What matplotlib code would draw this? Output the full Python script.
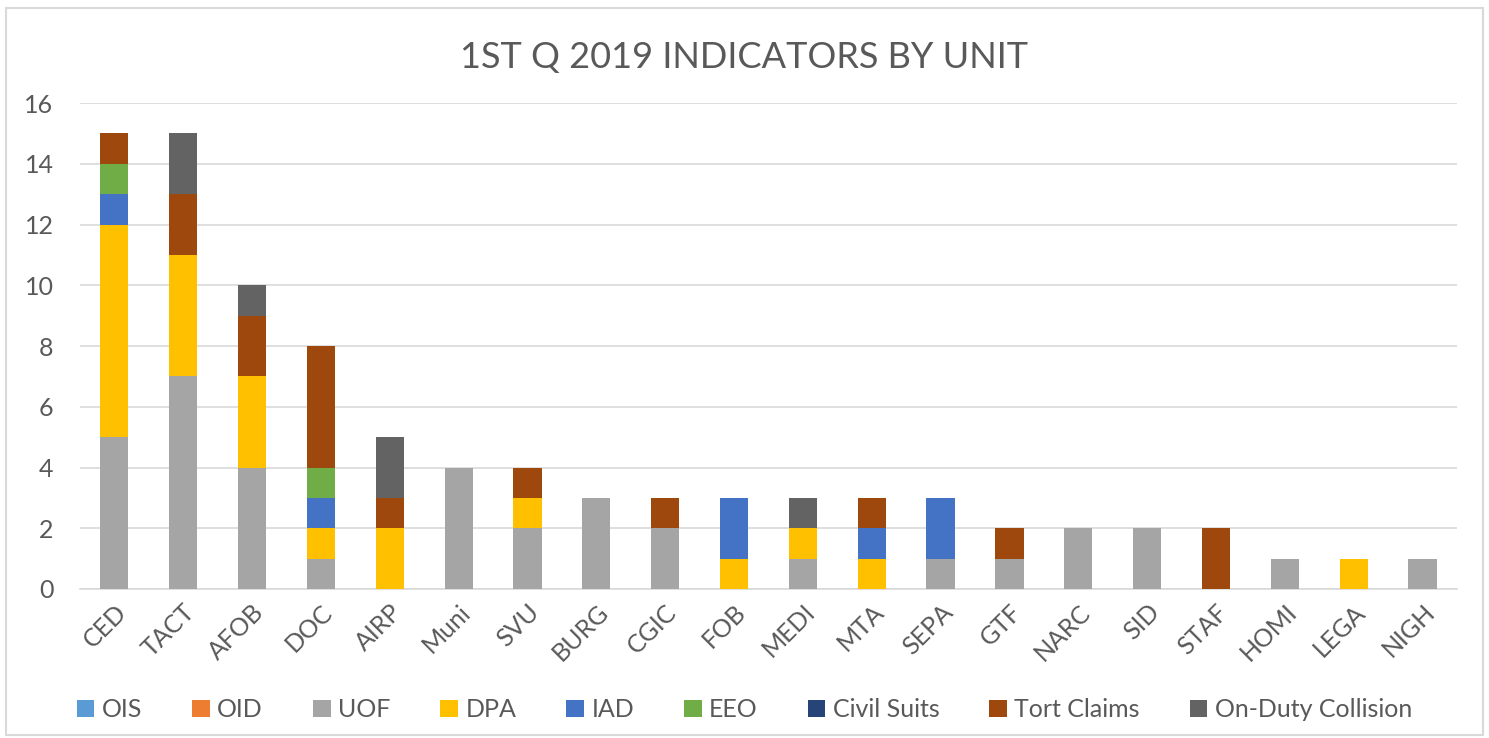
import numpy as np
import matplotlib.pyplot as plt
from matplotlib.patches import Rectangle

plt.rcParams['font.family'] = ['Lato', 'DejaVu Sans']

units = ['CED', 'TACT', 'AFOB', 'DOC', 'AIRP', 'Muni', 'SVU', 'BURG', 'CGIC', 'FOB',
         'MEDI', 'MTA', 'SEPA', 'GTF', 'NARC', 'SID', 'STAF', 'HOMI', 'LEGA', 'NIGH']

ois =       [0, 0, 0, 0, 0, 0, 0, 0, 0, 0, 0, 0, 0, 0, 0, 0, 0, 0, 0, 0]
oid =       [0, 0, 0, 0, 0, 0, 0, 0, 0, 0, 0, 0, 0, 0, 0, 0, 0, 0, 0, 0]
uof =       [5, 7, 4, 1, 0, 4, 2, 3, 2, 0, 1, 0, 1, 1, 2, 2, 0, 1, 0, 1]
dpa =       [7, 4, 3, 1, 2, 0, 1, 0, 0, 1, 1, 1, 0, 0, 0, 0, 0, 0, 1, 0]
iad =       [1, 0, 0, 1, 0, 0, 0, 0, 0, 2, 0, 1, 2, 0, 0, 0, 0, 0, 0, 0]
eeo =       [1, 0, 0, 1, 0, 0, 0, 0, 0, 0, 0, 0, 0, 0, 0, 0, 0, 0, 0, 0]
civil =     [0, 0, 0, 0, 0, 0, 0, 0, 0, 0, 0, 0, 0, 0, 0, 0, 0, 0, 0, 0]
tort =      [1, 2, 2, 4, 1, 0, 1, 0, 1, 0, 0, 1, 0, 1, 0, 0, 2, 0, 0, 0]
collision = [0, 2, 1, 0, 2, 0, 0, 0, 0, 0, 1, 0, 0, 0, 0, 0, 0, 0, 0, 0]

series = [
    ('OIS', ois, '#5B9BD5'),
    ('OID', oid, '#ED7D31'),
    ('UOF', uof, '#A5A5A5'),
    ('DPA', dpa, '#FFC000'),
    ('IAD', iad, '#4472C4'),
    ('EEO', eeo, '#70AD47'),
    ('Civil Suits', civil, '#264478'),
    ('Tort Claims', tort, '#9E480E'),
    ('On-Duty Collision', collision, '#636363'),
]

txt = '#595959'
grid = '#D9D9D9'

fig = plt.figure(figsize=(14.89, 7.38), dpi=100)
fig.patches.append(Rectangle((0.004, 0.004), 0.992, 0.985, transform=fig.transFigure,
                             fill=False, edgecolor='#D9D9D9', linewidth=1.5))
ax = fig.add_axes([0.0537, 0.2019, 0.9248, 0.6585])

x = np.arange(len(units))
bottom = np.zeros(len(units))
for name, vals, col in series:
    vals = np.array(vals, dtype=float)
    ax.bar(x, vals, width=0.41, bottom=bottom, color=col, label=name, zorder=3)
    bottom += vals

ax.set_xlim(-0.5, len(units) - 0.5)
ax.set_ylim(0, 16)
ax.set_yticks(range(0, 17, 2))
ax.yaxis.grid(True, color=grid, linewidth=1.2, zorder=0)
for s in ['top', 'right', 'left']:
    ax.spines[s].set_visible(False)
ax.spines['bottom'].set_color(grid)
ax.spines['bottom'].set_linewidth(1.2)
ax.tick_params(axis='both', length=0, labelsize=18, colors=txt, pad=8)
ax.set_xticks(x)
ax.set_xticklabels(units, rotation=45, ha='right', rotation_mode='anchor')
ax.tick_params(axis='y', pad=19)

fig.text(0.5, 0.922, '1ST Q 2019 INDICATORS BY UNIT', ha='center', va='center',
         fontsize=26, color=txt)

leg = fig.legend(loc='center', bbox_to_anchor=(0.5, 0.038), ncol=9, frameon=False,
                 fontsize=18, handlelength=0.7, handleheight=0.7, handletextpad=0.3,
                 columnspacing=2.0, labelcolor=txt)

fig.savefig('out.png', dpi=100)
